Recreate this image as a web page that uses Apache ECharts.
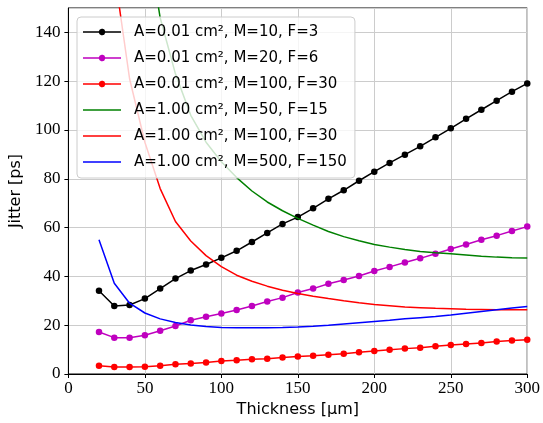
<!DOCTYPE html>
<html lang="en">

<head>
  <meta charset="UTF-8">
  <title>Jitter vs thickness</title>
  <script src="https://cdnjs.cloudflare.com/ajax/libs/echarts/6.0.0/echarts.min.js"></script>
  <style>
    body {
      margin: 0;
      background-color: #fff;
    }
  </style>
</head>

<body>
  <div id="main" style="width: 543px;height:423px;"></div>
</body>
<script>
  // thickness in um
  const thickness = [20, 30, 40, 50, 60, 70, 80, 90, 100, 110, 120, 130, 140, 150, 160,
    170, 180, 190, 200, 210, 220, 230, 240, 250, 260, 270, 280, 290, 300];

  // A=0.01 cm2, M=10, F=3
  const jitterA001M10 = [34.1, 27.9, 28.3, 30.9, 35.0, 39.1, 42.4, 44.9, 47.6, 50.5, 54.1, 57.8, 61.5, 64.3, 67.9,
    71.8, 75.3, 79.2, 82.9, 86.5, 89.9, 93.3, 97.0, 100.7, 104.6, 108.3, 112.0, 115.7, 119.1];
  // A=0.01 cm2, M=20, F=6
  const jitterA001M20 = [17.2, 14.9, 14.9, 15.9, 17.7, 19.7, 22.0, 23.5, 24.8, 26.2, 27.9, 29.7, 31.3, 33.4, 35.0,
    37.0, 38.5, 40.2, 42.2, 43.9, 45.7, 47.4, 49.3, 51.2, 53.1, 55.0, 56.7, 58.6, 60.4];
  // A=0.01 cm2, M=100, F=30
  const jitterA001M100 = [3.4, 2.9, 2.9, 3.0, 3.4, 4.0, 4.3, 4.7, 5.3, 5.6, 6.0, 6.3, 6.8, 7.2, 7.5,
    7.9, 8.3, 8.9, 9.4, 9.9, 10.4, 10.8, 11.4, 11.9, 12.3, 12.7, 13.3, 13.7, 14.0];
  // A=1.00 cm2, M=50, F=15
  const jitterA1M50 = [900, 420, 250, 185, 146, 123, 106, 95, 87, 80.5, 75.0, 70.5, 66.9, 63.8, 61.0,
    58.4, 56.3, 54.6, 53.1, 52.0, 51.0, 50.2, 49.7, 49.3, 48.8, 48.3, 47.9, 47.6, 47.5];
  // A=1.00 cm2, M=100, F=30
  const jitterA1M100 = [300, 165, 121, 95, 76, 62.5, 54.5, 48.5, 44.0, 40.5, 38.0, 36.0, 34.3, 33.0, 31.9,
    30.9, 30.0, 29.2, 28.5, 28.0, 27.5, 27.2, 26.9, 26.7, 26.5, 26.4, 26.3, 26.3, 26.3];
  // A=1.00 cm2, M=500, F=150
  const jitterA1M500 = [55.0, 37.2, 29.0, 25.0, 22.6, 21.1, 20.1, 19.5, 19.1, 19.0, 19.0, 19.0, 19.1, 19.3, 19.6,
    20.0, 20.5, 21.0, 21.5, 22.0, 22.6, 23.1, 23.6, 24.2, 24.9, 25.6, 26.3, 27.0, 27.7];

  const seriesNames = [
    'A=0.01 cm², M=10, F=3',
    'A=0.01 cm², M=20, F=6',
    'A=0.01 cm², M=100, F=30',
    'A=1.00 cm², M=50, F=15',
    'A=1.00 cm², M=100, F=30',
    'A=1.00 cm², M=500, F=150'
  ];
  const seriesValues = [jitterA001M10, jitterA001M20, jitterA001M100, jitterA1M50, jitterA1M100, jitterA1M500];
  const seriesColors = ['#000000', '#bf00bf', '#ff0000', '#008000', '#ff0000', '#0000ff'];
  const seriesMarkers = [true, true, true, false, false, false];

  // legend icons drawn in a 38x16 box: line, optionally with a dot
  const iconLine = 'path://M0,0M38,16M0,7.25L38,7.25L38,8.75L0,8.75Z';
  const iconLineDot = 'path://M0,0M38,16M0,7.25L15.8,7.25A3.3,3.3,0,0,1,22.2,7.25L38,7.25L38,8.75L22.2,8.75A3.3,3.3,0,0,1,15.8,8.75L0,8.75Z';

  var myChart = echarts.init(document.getElementById('main'));

  function pairs(values) {
    return thickness.map((t, i) => [t, values[i]]);
  }

  var series = seriesNames.map((name, k) => ({
    name: name,
    type: 'line',
    data: pairs(seriesValues[k]),
    symbol: seriesMarkers[k] ? 'circle' : 'none',
    symbolSize: 6.5,
    showSymbol: seriesMarkers[k],
    clip: true,
    animation: false,
    lineStyle: { color: seriesColors[k], width: 1.5 },
    itemStyle: { color: seriesColors[k] },
    z: 2 + k
  }));

  var legendData = seriesNames.map((name, k) => ({
    name: name,
    icon: seriesMarkers[k] ? iconLineDot : iconLine,
    itemStyle: { color: seriesColors[k], borderWidth: 0 }
  }));

  var option = {
    animation: false,
    grid: {
      left: 66,
      right: 14,
      top: 8,
      bottom: 49,
      show: true,
      borderColor: '#000',
      borderWidth: 1,
      containLabel: false
    },
    legend: {
      orient: 'vertical',
      left: 77,
      top: 17,
      padding: [7, 8, 8, 6],
      itemWidth: 38,
      itemHeight: 16,
      itemGap: 10,
      backgroundColor: 'rgba(255,255,255,0.8)',
      borderColor: '#cccccc',
      borderWidth: 1,
      borderRadius: 4,
      textStyle: {
        fontFamily: 'DejaVu Sans',
        fontSize: 15,
        lineHeight: 16,
        color: '#000',
        padding: [0, 0, 0, 8]
      },
      data: legendData,
      z: 20
    },
    xAxis: {
      type: 'value',
      min: 0,
      max: 300,
      interval: 50,
      name: 'Thickness [μm]',
      nameLocation: 'middle',
      nameGap: 27,
      nameTextStyle: { fontFamily: 'DejaVu Sans', fontSize: 16, color: '#000' },
      axisLine: { show: true, onZero: false, lineStyle: { color: '#000' } },
      axisTick: { show: true, inside: false, length: 4, lineStyle: { color: '#000' } },
      axisLabel: { fontFamily: 'Liberation Serif', fontSize: 17, color: '#000', margin: 6 },
      splitLine: { show: true, lineStyle: { color: '#cccccc', width: 1 } }
    },
    yAxis: {
      type: 'value',
      min: 0,
      max: 150,
      interval: 20,
      name: 'Jitter [ps]',
      nameLocation: 'middle',
      nameGap: 28,
      nameTextStyle: { fontFamily: 'DejaVu Sans', fontSize: 16, color: '#000' },
      axisLine: { show: true, lineStyle: { color: '#000' } },
      axisTick: { show: true, inside: false, length: 4, lineStyle: { color: '#000' } },
      axisLabel: { fontFamily: 'Liberation Serif', fontSize: 17, color: '#000', margin: 8, showMaxLabel: false },
      splitLine: { show: true, lineStyle: { color: '#cccccc', width: 1 } }
    },
    series: series
  };

  myChart.setOption(option);
</script>

</html>
